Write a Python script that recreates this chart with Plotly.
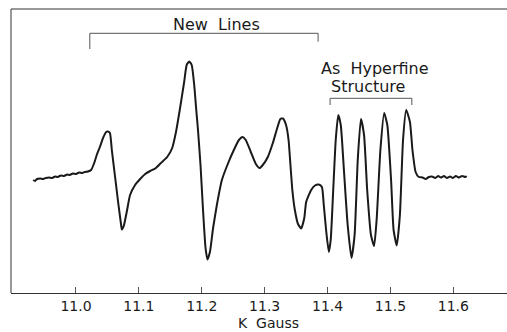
import plotly.graph_objects as go

# Field (kGauss) and derivative signal (arbitrary units)
field = [10.932, 10.935, 10.938, 10.943, 10.948, 10.952, 10.957, 10.962, 10.967, 10.971,
         10.976, 10.981, 10.986, 10.990, 10.995, 11.000, 11.005, 11.010, 11.014, 11.019, 11.024,
         11.029, 11.033, 11.038, 11.043, 11.048, 11.051, 11.054, 11.057, 11.062, 11.067,
         11.072, 11.073, 11.076, 11.081, 11.086, 11.094, 11.102, 11.110, 11.118, 11.126,
         11.135, 11.145, 11.153, 11.159, 11.165, 11.172, 11.176, 11.180, 11.184, 11.188,
         11.191, 11.194, 11.198, 11.202, 11.206, 11.209, 11.213, 11.218, 11.224, 11.232,
         11.242, 11.251, 11.259, 11.265, 11.270, 11.278, 11.286, 11.292, 11.297, 11.305,
         11.313, 11.320, 11.325, 11.329, 11.334, 11.338, 11.341, 11.344, 11.348, 11.353,
         11.358, 11.363, 11.366, 11.374, 11.380, 11.386, 11.391, 11.394, 11.398, 11.402,
         11.405, 11.409, 11.413, 11.417, 11.421, 11.426, 11.432, 11.438, 11.443, 11.448,
         11.453, 11.458, 11.463, 11.469, 11.474, 11.478, 11.484, 11.490, 11.495, 11.501,
         11.505, 11.510, 11.515, 11.520, 11.525, 11.531, 11.535, 11.540, 11.545, 11.551,
         11.556, 11.561, 11.566, 11.571, 11.576, 11.580, 11.585, 11.590, 11.595, 11.599,
         11.604, 11.609, 11.614, 11.619, 11.621]
signal = [-5, -6, -4, -3.5, -4, -3, -2.5, -3, -1.5, -2,
          -0.5, -1, 0.5, 0, 1.5, 1, 2.5, 2, 3, 3.5, 5,
          12, 20, 28, 37, 43, 43.5, 42, 25, -1, -27,
          -51, -54.5, -51, -36, -20, -10, -4, 1, 4, 6.5,
          12, 18, 27, 43, 65, 93, 110, 113.5, 110, 90,
          67, 45, 10, -35, -73, -84.5, -77, -53, -30, -5,
          12, 25, 35, 38, 35, 23, 11, 7, 10, 18,
          32, 47, 56, 56.5, 50, 35, 10, -15, -35, -49,
          -53.5, -43, -27, -15, -10.5, -9.5, -12, -30, -57, -77,
          -65, -15, 35, 60, 50, 5, -50, -83, -60, 15,
          56, 40, -15, -60, -71, -45, 25, 62, 50, -5,
          -55, -70.5, -40, 35, 65, 53, 25, 3, -2, -2.5,
          -4, -2, -1.5, -3, -1, -2.5, -1, -3, -1.5, -3,
          -1, -2.5, -1, -2, -1]

tick_vals = [11.0, 11.1, 11.2, 11.3, 11.4, 11.5, 11.6]
tick_text = ["11.0", "11.1", "11.2", "11.3", "11.4", "11.5", "11.6"]

# bracket endpoints (data units)
new_lines_x = [11.022, 11.385]
new_lines_y = [141.7, 126.0, 133.3]
hf_x = [11.404, 11.534]
hf_y = [76.7, 70.0]

ink = "#1a1a1a"
font = "DejaVu Sans"

fig = go.Figure()
fig.add_trace(go.Scatter(x=field, y=signal, mode="lines",
                         line=dict(color=ink, width=2, shape="spline", smoothing=0.5),
                         hoverinfo="skip", showlegend=False))
# New Lines bracket
fig.add_trace(go.Scatter(x=[new_lines_x[0], new_lines_x[0], new_lines_x[1], new_lines_x[1]],
                         y=[new_lines_y[1], new_lines_y[0], new_lines_y[0], new_lines_y[2]],
                         mode="lines", line=dict(color="#555", width=1),
                         hoverinfo="skip", showlegend=False))
# Hyperfine bracket
fig.add_trace(go.Scatter(x=[hf_x[0], hf_x[0], hf_x[1], hf_x[1]],
                         y=[hf_y[1], hf_y[0], hf_y[0], hf_y[1]],
                         mode="lines", line=dict(color="#555", width=1),
                         hoverinfo="skip", showlegend=False))

fig.add_annotation(x=11.223, y=151, text="New  Lines", showarrow=False,
                   font=dict(family=font, size=16, color=ink), yanchor="middle")
fig.add_annotation(x=11.476, y=106.7, text="As  Hyperfine", showarrow=False,
                   font=dict(family=font, size=16, color=ink), yanchor="middle")
fig.add_annotation(x=11.464, y=88.3, text="Structure", showarrow=False,
                   font=dict(family=font, size=16, color=ink), yanchor="middle")
fig.add_annotation(x=11.306, y=-0.107, yref="paper", text="K  Gauss", showarrow=False,
                   font=dict(family=font, size=14, color=ink), yanchor="middle")

# frame: left, top, bottom (right edge is cut off in the original)
frame_col = "#333"
fig.add_shape(type="line", xref="paper", yref="paper", x0=0, x1=0, y0=0, y1=1,
              line=dict(color=frame_col, width=1))
fig.add_shape(type="line", xref="paper", yref="paper", x0=0, x1=1.02, y0=1, y1=1,
              line=dict(color=frame_col, width=1))

fig.update_layout(
    width=507, height=332,
    margin=dict(l=11, r=0, t=9, b=39),
    paper_bgcolor="white", plot_bgcolor="white",
    xaxis=dict(range=[10.8967, 11.6853], tickvals=tick_vals, ticktext=tick_text,
               ticks="inside", ticklen=6, tickcolor="#555", showgrid=False, zeroline=False,
               showline=True, linecolor=frame_col, linewidth=1, mirror=False,
               tickfont=dict(family=font, size=14, color=ink)),
    yaxis=dict(range=[-118, 166], showticklabels=False, ticks="", showgrid=False,
               zeroline=False, showline=False),
)

fig.write_html("out.html", config={"displayModeBar": False},
               post_script="document.body.style.margin='0';document.body.style.overflow='hidden';")
